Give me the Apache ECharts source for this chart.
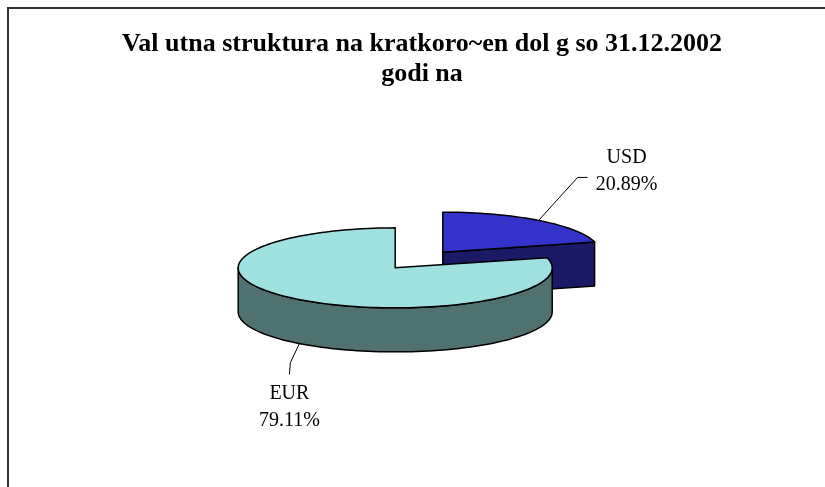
<!DOCTYPE html>
<html>
<head>
<meta charset="utf-8">
<script src="https://cdn.jsdelivr.net/npm/echarts@6/dist/echarts.min.js"></script>
<style>
  html, body { margin: 0; padding: 0; background: #fff; }
  #chart { width: 825px; height: 487px; }
</style>
</head>
<body>
<div id="chart"></div>
<script>
// data
const currencies = ['USD', 'EUR'];
const shares = [20.89, 79.11];

// styles
const topColors = ['#3333CC', '#9FE0E0'];
const sideColors = ['#1A1A66', '#4F716F'];

// 3d pie layout (pixels)
const CX = 419, CY = 260, RX = 157, RY = 40, DEPTH = 44, EXPLODE = 39;
// leader lines and label centres, relative to the slice anchor
const leaderPaths = [[[0, 0], [39, -43], [49, -43]], [[0, 0], [-9, 19], [-10, 31]]];
const textOffsets = [[88, -49], [-10, 64]];

const total = shares.reduce((a, b) => a + b, 0);
const startAt = [];
let acc = 0;
shares.forEach(v => { startAt.push(acc); acc += v; });

const rad = d => d * Math.PI / 180;

function rim(c, deg, dz) {
    return [c[0] + RX * Math.cos(rad(deg)), c[1] - RY * Math.sin(rad(deg)) + dz];
}
function arc(c, from, to, dz) {
    const n = Math.max(2, Math.ceil(Math.abs(to - from) / 2));
    const pts = [];
    for (let k = 0; k <= n; k++) pts.push(rim(c, from + (to - from) * k / n, dz));
    return pts;
}

function renderItem(params, api) {
    const i = params.dataIndex;
    const v = api.value(1);
    // excel style: start at 12 o'clock, go clockwise
    const a0 = 90 - startAt[i] / total * 360;
    const a1 = a0 - v / total * 360;
    const mid = (a0 + a1) / 2;
    const c = [CX + EXPLODE * Math.cos(rad(mid)), CY - EXPLODE * RY / RX * Math.sin(rad(mid))];
    const line = { stroke: '#000', lineWidth: 1.5, lineJoin: 'round' };
    const side = Object.assign({ fill: sideColors[i] }, line);
    const children = [];
    let z = i * 10;

    // outer wall, only the front half shows
    for (let k = -2; k <= 1; k++) {
        const lo = Math.max(a1, -180 + 360 * k), hi = Math.min(a0, 360 * k);
        if (hi - lo > 0.01) {
            const pts = arc(c, lo, hi, 0).concat(arc(c, hi, lo, DEPTH));
            children.push({ type: 'polygon', z2: z++, shape: { points: pts }, style: side });
        }
    }
    // cut faces
    const cut = deg => {
        const r = rim(c, deg, 0);
        return [c, r, [r[0], r[1] + DEPTH], [c[0], c[1] + DEPTH]];
    };
    if (Math.cos(rad(a0)) < -0.001) children.push({ type: 'polygon', z2: z++, shape: { points: cut(a0) }, style: side });
    if (Math.cos(rad(a1)) > 0.001) children.push({ type: 'polygon', z2: z++, shape: { points: cut(a1) }, style: side });
    // top face
    children.push({
        type: 'polygon', z2: z++,
        shape: { points: [c].concat(arc(c, a0, a1, 0)) },
        style: Object.assign({ fill: topColors[i] }, line)
    });

    // label
    const anchor = rim(c, mid, Math.sin(rad(mid)) < 0 ? DEPTH : 0);
    children.push({
        type: 'polyline', z2: 100,
        shape: { points: leaderPaths[i].map(p => [anchor[0] + p[0], anchor[1] + p[1]]) },
        style: { stroke: '#000', lineWidth: 1, fill: null }
    });
    children.push({
        type: 'text', z2: 100,
        x: anchor[0] + textOffsets[i][0],
        y: anchor[1] + textOffsets[i][1],
        style: {
            text: currencies[i] + '\n' + (v / total * 100).toFixed(2) + '%',
            fontFamily: 'Liberation Serif',
            fontSize: 20,
            lineHeight: 27,
            fill: '#000',
            align: 'center',
            verticalAlign: 'middle'
        }
    });
    return { type: 'group', children: children };
}

const chart = echarts.init(document.getElementById('chart'));
chart.setOption({
    animation: false,
    backgroundColor: '#fff',
    title: {
        text: 'Val utna struktura na kratkoro~en dol g so 31.12.2002\ngodi na',
        left: 417,
        top: 24,
        textAlign: 'center',
        textStyle: {
            fontFamily: 'Liberation Serif',
            fontWeight: 'bold',
            fontSize: 26,
            lineHeight: 30,
            color: '#000'
        }
    },
    graphic: [
        { type: 'line', shape: { x1: 7, y1: 8, x2: 825, y2: 8 }, style: { stroke: '#333', lineWidth: 2 } },
        { type: 'line', shape: { x1: 8, y1: 7, x2: 8, y2: 487 }, style: { stroke: '#333', lineWidth: 2 } }
    ],
    series: [{
        type: 'custom',
        coordinateSystem: 'none',
        renderItem: renderItem,
        data: currencies.map((name, i) => ({ name: name, value: [i, shares[i]] }))
    }]
});
</script>
</body>
</html>
